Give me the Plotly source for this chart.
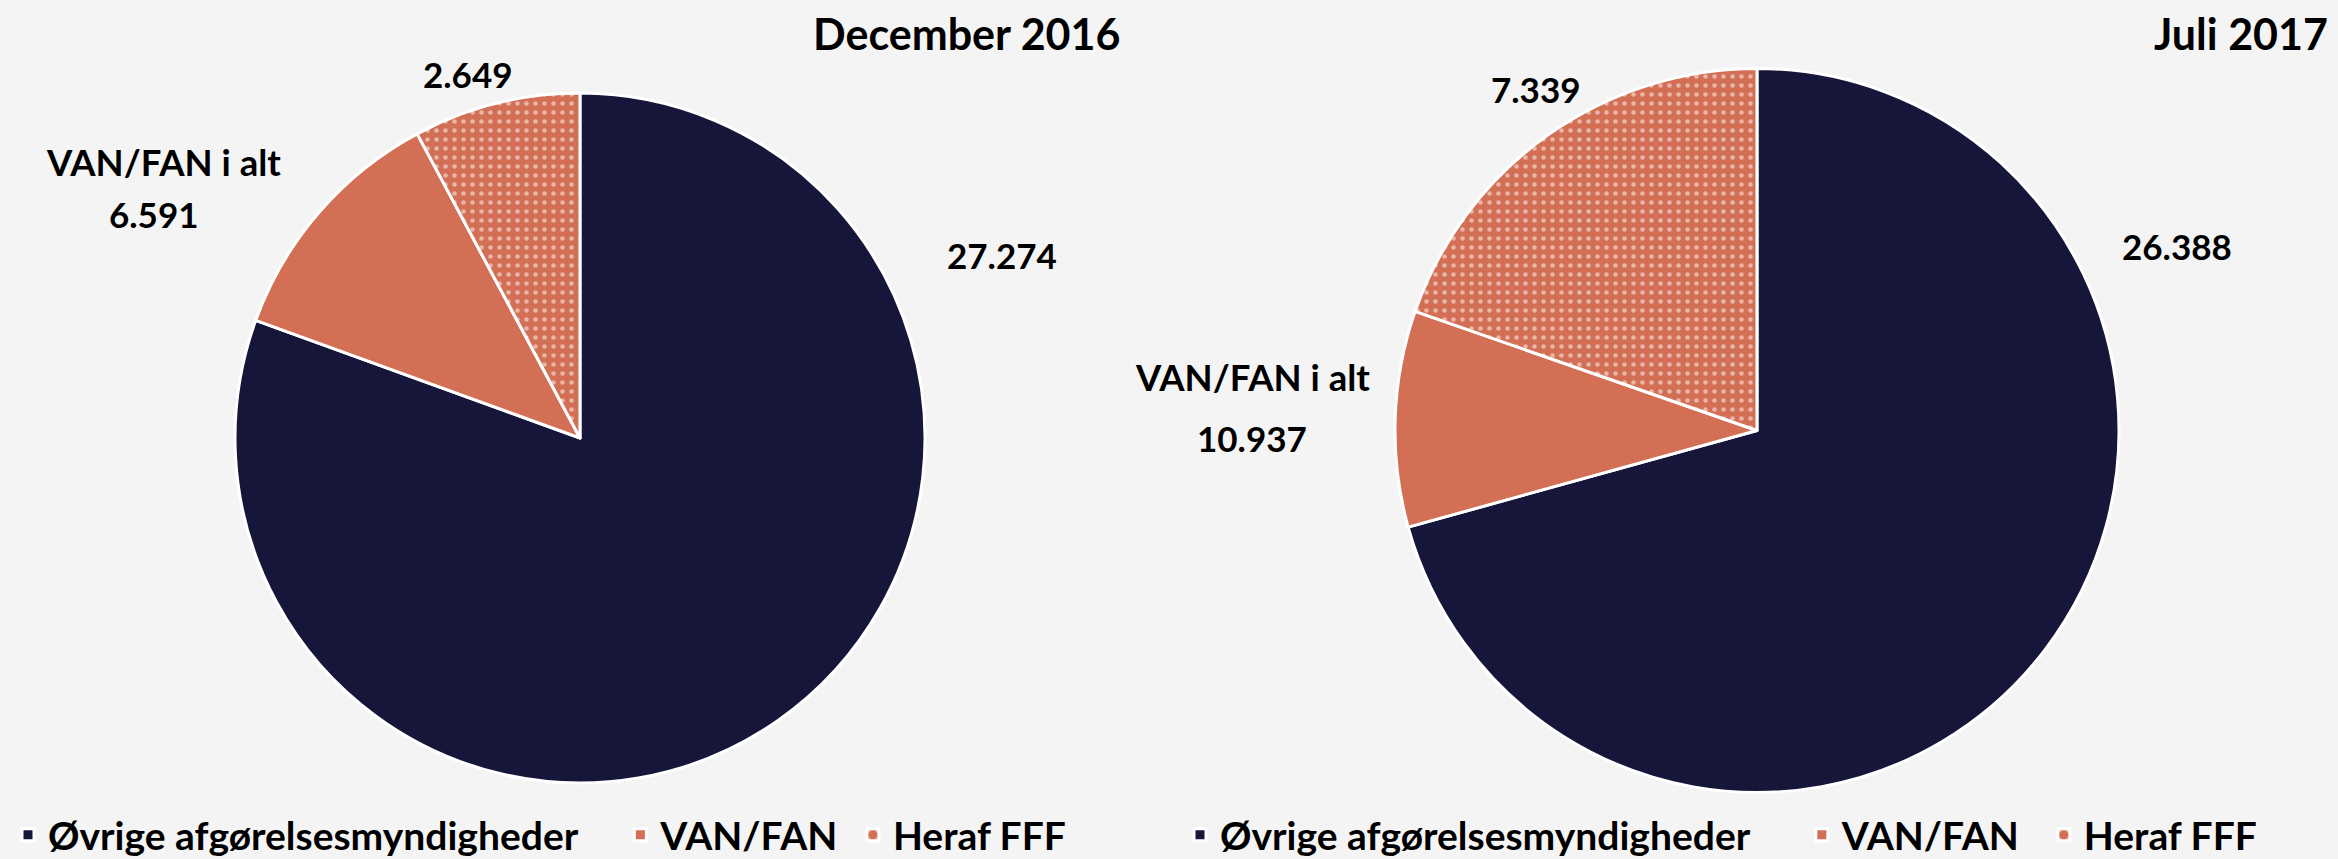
import plotly.graph_objects as go

# ---- data ----
categories = ["Øvrige afgørelsesmyndigheder", "VAN/FAN", "Heraf FFF"]
periods = ["December 2016", "Juli 2017"]
ovrige = [27274, 26388]
van_fan_total = [6591, 10937]
heraf_fff = [2649, 7339]
total_label = "VAN/FAN i alt"

NAVY = "#16163b"
ORANGE = "#d26f55"
BG = "#f4f4f4"
FONT = "Lato"

W, H = 2338, 859
NBSP = "\u00a0"
# legend padding (number of no-break spaces after each entry), per pie
legend_pad = [(4, 1), (5, 2)]


def fmt(v):
    return f"{v:,}".replace(",", ".")


def px_x(x):
    return x / W


def px_y(y):
    return (H - y) / H


# pie geometry in pixels (center x, center y from top, radius)
geo = [(580, 438, 345), (1757, 430.5, 362)]

fig = go.Figure()
for i, period in enumerate(periods):
    cx, cy, r = geo[i]
    values = [ovrige[i], van_fan_total[i] - heraf_fff[i], heraf_fff[i]]
    # second pie gets a zero-width mark so that its entries are not
    # merged with the first pie's legend
    suffix = "\u200b" * i
    p0, p1 = legend_pad[i]
    legend_labels = [categories[0] + NBSP * p0 + suffix,
                     categories[1] + NBSP * p1 + suffix,
                     categories[2] + suffix]
    fig.add_trace(go.Pie(
        labels=legend_labels,
        values=values,
        sort=False,
        direction="clockwise",
        rotation=0,
        textinfo="none",
        hovertemplate="%{customdata}: %{value}<extra></extra>",
        customdata=categories,
        marker=dict(
            colors=[NAVY, ORANGE, ORANGE],
            line=dict(color="white", width=3),
            pattern=dict(shape=["", "", "."], fgcolor="white",
                         bgcolor=[NAVY, ORANGE, ORANGE],
                         fillmode="overlay", size=9, solidity=0.2),
        ),
        domain=dict(x=[px_x(cx - r), px_x(cx + r)],
                    y=[px_y(cy + r), px_y(cy - r)]),
        legend="legend" if i == 0 else "legend2",
        showlegend=True,
        name=period,
    ))

annos = []
# titles
annos.append(dict(text="<b>December 2016</b>", x=px_x(1122), y=px_y(33),
                  xanchor="right", yanchor="middle", font=dict(size=43)))
annos.append(dict(text="<b>Juli 2017</b>", x=px_x(2330), y=px_y(33),
                  xanchor="right", yanchor="middle", font=dict(size=43)))
# data labels (text, x, y, size)
labels = [
    (fmt(heraf_fff[0]), 468, 74, 35),
    (total_label, 163, 162, 36.5),
    (fmt(van_fan_total[0]), 154, 214, 35),
    (fmt(ovrige[0]), 1002, 255, 35),
    (fmt(heraf_fff[1]), 1536, 89, 35),
    (total_label, 1253, 377, 36.5),
    (fmt(van_fan_total[1]), 1252, 438, 35),
    (fmt(ovrige[1]), 2177, 246, 35),
]
for t, x, y, s in labels:
    annos.append(dict(text=f"<b>{t}</b>", x=px_x(x), y=px_y(y),
                      xanchor="center", yanchor="middle", font=dict(size=s)))
for a in annos:
    a.update(xref="paper", yref="paper", showarrow=False)
    a["font"].update(family=FONT, color="black")

legend_common = dict(orientation="h", yanchor="middle", xanchor="left",
                     font=dict(family=FONT, size=39, color="black",
                               weight="bold"),
                     bgcolor="rgba(0,0,0,0)", itemclick=False)

fig.update_layout(
    width=W, height=H,
    margin=dict(l=0, r=0, t=0, b=0, autoexpand=False),
    paper_bgcolor=BG, plot_bgcolor=BG,
    font=dict(family=FONT, color="black"),
    annotations=annos,
    legend=dict(x=px_x(8), y=px_y(835), **legend_common),
    legend2=dict(x=px_x(1180), y=px_y(835), **legend_common),
)

fig.write_html(
    "out.html",
    config={"displayModeBar": False},
    post_script="document.body.style.margin='0';"
                "document.body.style.overflow='hidden';",
)
